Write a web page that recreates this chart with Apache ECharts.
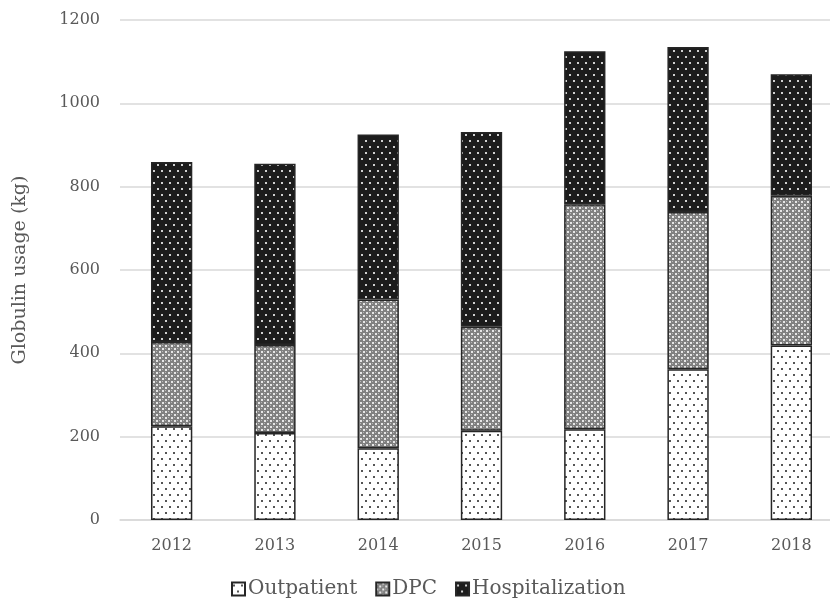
<!DOCTYPE html>
<html>
<head>
<meta charset="utf-8">
<script src="https://cdn.jsdelivr.net/npm/echarts@6/dist/echarts.min.js"></script>
<style>
  html, body { margin: 0; padding: 0; background: #fff; overflow: hidden; }
  #chart { width: 843px; height: 600px; }
</style>
</head>
<body>
<div id="chart"></div>
<script>
const years = ['2012', '2013', '2014', '2015', '2016', '2017', '2018']
const outpatient = [225, 209, 172, 214, 218, 362, 419]
const dpc = [202, 211, 357, 250, 540, 377, 359]
const hospitalization = [432, 435, 396, 467, 367, 396, 292]

// small canvas tiles used as fill patterns
function makeTile(w, h, draw) {
  const c = document.createElement('canvas')
  c.width = w
  c.height = h
  draw(c.getContext('2d'))
  return c
}

const dotsLight = makeTile(8, 12, ctx => {
  ctx.fillStyle = '#ffffff'
  ctx.fillRect(0, 0, 8, 12)
  ctx.fillStyle = '#555'
  ctx.fillRect(1, 2, 2, 2)
  ctx.fillRect(5, 8, 2, 2)
})

const hatchGrey = makeTile(6, 6, ctx => {
  ctx.fillStyle = '#808080'
  ctx.fillRect(0, 0, 6, 6)
  ctx.fillStyle = '#e6e6e6'
  ctx.fillRect(0, 0, 2, 2)
  ctx.fillRect(3, 3, 2, 2)
  ctx.fillStyle = '#b8b8b8'
  ctx.fillRect(3, 0, 1, 1)
  ctx.fillRect(0, 3, 1, 1)
})

const dotsDark = makeTile(8, 12, ctx => {
  ctx.fillStyle = '#1c1c1c'
  ctx.fillRect(0, 0, 8, 12)
  ctx.fillStyle = '#d0d0d0'
  ctx.fillRect(1, 2, 2, 2)
  ctx.fillRect(5, 8, 2, 2)
})

const font = 'DejaVu Serif'
const textColor = '#595959'

function barSeries(name, data, tile) {
  return {
    name: name,
    type: 'bar',
    stack: 'total',
    barWidth: '40%',
    data: data,
    itemStyle: {
      color: { image: tile, repeat: 'repeat' },
      borderColor: '#262626',
      borderWidth: 1.5
    },
    emphasis: { disabled: true }
  }
}

// chart div is a bit wider than the page so the last category runs past the edge like the original
const chart = echarts.init(document.getElementById('chart'))
chart.setOption({
  animation: false,
  grid: { left: 120, right: 0, top: 20, bottom: 80 },
  legend: {
    bottom: -4,
    left: 226,
    itemWidth: 13,
    itemHeight: 13,
    itemGap: 18,
    icon: 'rect',
    textStyle: { color: textColor, fontFamily: font, fontSize: 20, padding: [0, 0, 0, -2] },
    data: ['Outpatient', 'DPC', 'Hospitalization']
  },
  xAxis: {
    type: 'category',
    data: years,
    axisLine: { lineStyle: { color: '#d9d9d9', width: 1.5 } },
    axisTick: { show: false },
    axisLabel: { color: textColor, fontFamily: font, fontSize: 16, margin: 18 }
  },
  yAxis: {
    type: 'value',
    min: 0,
    max: 1200,
    interval: 200,
    name: 'Globulin usage (kg)',
    nameLocation: 'middle',
    nameGap: 90,
    nameTextStyle: { color: textColor, fontFamily: font, fontSize: 19 },
    axisLine: { show: false },
    axisTick: { show: false },
    axisLabel: { color: textColor, fontFamily: font, fontSize: 16, margin: 20, formatter: v => String(v) },
    splitLine: { lineStyle: { color: '#d9d9d9', width: 1.5 } }
  },
  series: [
    barSeries('Outpatient', outpatient, dotsLight),
    barSeries('DPC', dpc, hatchGrey),
    barSeries('Hospitalization', hospitalization, dotsDark)
  ]
})
</script>
</body>
</html>
